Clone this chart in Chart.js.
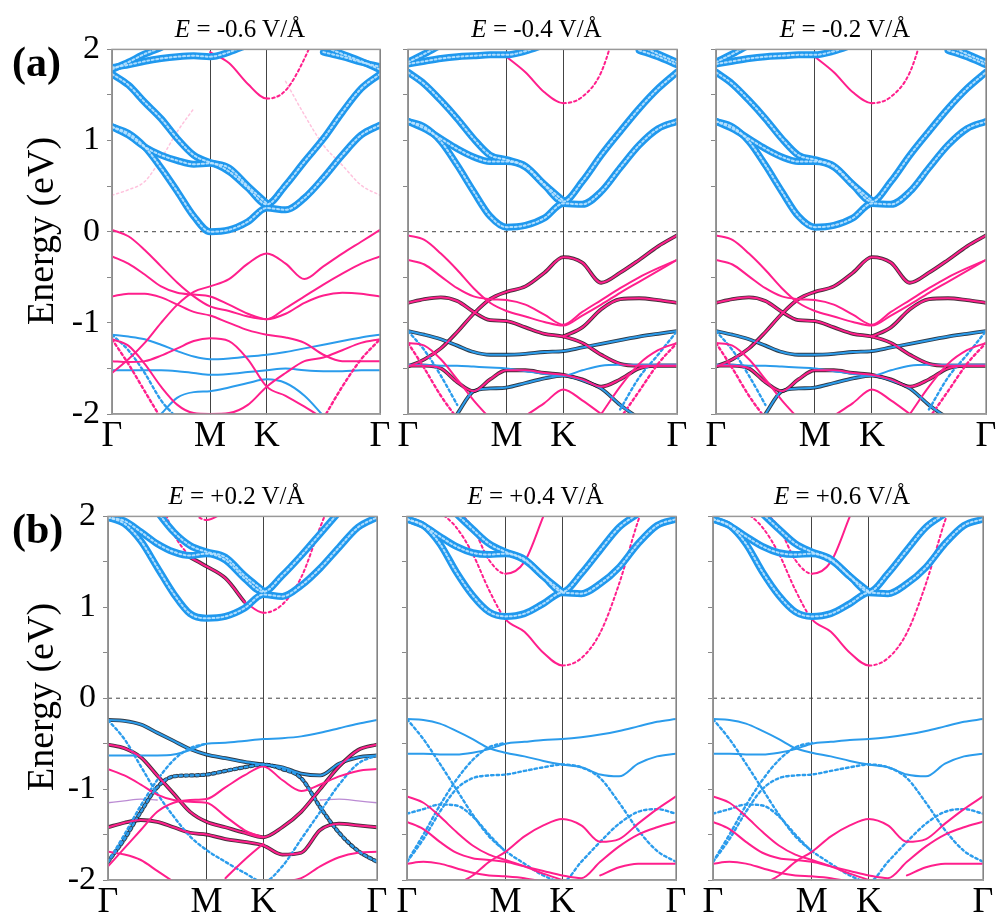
<!DOCTYPE html>
<html>
<head>
<meta charset="utf-8">
<script src="https://cdn.jsdelivr.net/npm/chart.js@4.4.1/dist/chart.umd.min.js"></script>
<style>
  body { margin: 0; width: 996px; height: 918px; background: #fff; position: relative; overflow: hidden; font-family: "Liberation Serif", serif; }
  canvas { position: absolute; }
  .ttl { position: absolute; font-family: "Liberation Serif", serif; font-size: 25px; line-height: 25px; width: 300px; text-align: center; white-space: nowrap; }
  .tag { position: absolute; font-family: "Liberation Serif", serif; font-size: 42px; line-height: 42px; font-weight: bold; }
  .ylab { position: absolute; font-family: "Liberation Serif", serif; font-size: 38px; line-height: 38px; white-space: nowrap; transform: translate(-50%, -50%) rotate(-90deg); }
</style>
</head>
<body>
<script>
const _ = null;

// k-path Γ-M-K-Γ (sample points) and labels
const kPts = [0, 0.0962, 0.1925, 0.2887, 0.3849, 0.4811, 0.5774, 0.6885, 0.7996, 0.9107, 1.0218, 1.1329, 1.2440, 1.3551, 1.4662, 1.5773];
const kTicks = [0, 0.5774, 0.9107, 1.5773];
const kLabels = ['Γ', 'M', 'K', 'Γ'];
const fieldLabels = ['-0.6', '-0.4', '-0.2', '+0.2', '+0.4', '+0.6'];

// ---- E = -0.6 V/Å ----
const a1Fat = [
  [1.15, 1.08, 0.93, 0.70, 0.44, 0.17, 0.00, 0.02, 0.11, 0.26, 0.24, 0.37, 0.59, 0.84, 1.06, 1.17],
  [1.15, 1.06, 0.93, 0.84, 0.78, 0.74, 0.75, 0.66, 0.48, 0.30, 0.51, 0.77, 1.02, 1.31, 1.57, 1.73],
  [1.73, 1.61, 1.42, 1.24, 1.02, 0.84, 0.76, 0.70, 0.50, 0.31, _, _, _, _, _, _],
  [1.80, 1.83, 1.87, 1.90, 1.92, 1.93, 1.92, 1.97, 2.05, _, _, _, 1.97, 1.92, 1.86, 1.81],
  [1.78, 1.86, 1.95, 2.02, _, _, _, _, _, _, _, _, 2.03, 1.95, 1.87, 1.78]
];
const a1PinkCond = [
  [_, _, _, _, _, _, 1.97, 1.85, 1.62, 1.46, 1.55, 1.90, 2.40, _, _, _]
];
const a1PinkFaint = [
  [0.40, 0.46, 0.55, 0.80, 1.10, 1.35, _, _, _, _, _, _, _, _, _, _],
  [_, _, _, _, _, _, _, _, _, _, 1.65, 1.28, 0.95, 0.73, 0.51, 0.40]
];
const a1Pink = [
  [0.02, -0.05, -0.20, -0.38, -0.56, -0.71, -0.82, -0.87, -0.93, -0.96, -0.84, -0.71, -0.58, -0.46, -0.35, -0.27],
  [-0.27, -0.35, -0.47, -0.60, -0.67, -0.69, -0.71, -0.80, -0.90, -0.96, -0.90, -0.78, -0.70, -0.67, -0.68, -0.71],
  [-1.55, -1.40, -1.22, -1.00, -0.80, -0.66, -0.60, -0.52, -0.35, -0.24, -0.35, -0.52, -0.38, -0.24, -0.11, 0.02],
  [-0.71, -0.68, -0.68, -0.72, -0.80, -0.88, -0.92, -1.00, -1.08, -1.13, -1.16, -1.22, -1.35, -1.42, -1.42, -1.42],
  [-1.42, -1.43, -1.42, -1.36, -1.28, -1.20, -1.17, -1.20, -1.40, -1.70, -1.80, -1.92, -2.05, _, _, _],
  [-1.18, -1.25, -1.45, -1.70, -1.90, -1.99, -2.00, -1.99, -1.90, -1.70, -1.55, -1.42, -1.38, -1.30, -1.22, -1.18]
];
const a1PinkDot = [
  [-1.18, -1.45, -1.75, -2.05, _, _, _, _, _, _, _, _, -2.05, -1.70, -1.40, -1.18]
];
const a1Blue = [
  [-1.13, -1.15, -1.18, -1.24, -1.31, -1.37, -1.40, -1.39, -1.37, -1.35, -1.32, -1.28, -1.24, -1.20, -1.16, -1.13],
  [-1.52, -1.52, -1.52, -1.52, -1.53, -1.55, -1.57, -1.56, -1.54, -1.52, -1.50, -1.52, -1.53, -1.53, -1.52, -1.52],
  [_, _, _, -2.00, -1.82, -1.76, -1.75, -1.71, -1.66, -1.62, -1.66, -1.80, -2.02, _, _, _]
];
const a1BlueDot = [
  [-1.13, -1.30, -1.55, -1.85, -2.05, _, _, _, _, _, _, _, _, _, _, _]
];

// ---- E = -0.4 / -0.2 V/Å ----
const a2Fat = [
  [1.21, 1.15, 0.99, 0.73, 0.44, 0.17, 0.05, 0.07, 0.15, 0.31, 0.30, 0.44, 0.70, 0.95, 1.13, 1.21],
  [1.21, 1.13, 1.02, 0.91, 0.82, 0.77, 0.77, 0.71, 0.51, 0.33, 0.55, 0.84, 1.10, 1.35, 1.57, 1.75],
  [1.75, 1.62, 1.44, 1.24, 1.02, 0.84, 0.79, 0.72, 0.52, 0.34, _, _, _, _, _, _],
  [1.84, 1.87, 1.90, 1.92, 1.93, 1.94, 1.94, 1.98, 2.05, _, _, _, _, 1.99, 1.92, 1.83],
  [1.86, 1.95, 2.05, _, _, _, _, _, _, _, _, _, _, 2.05, 1.95, 1.86]
];
const a2PinkCond = [
  [_, _, _, _, _, _, 1.92, 1.75, 1.53, 1.41, 1.48, 1.75, 2.40, _, _, _]
];
const a2Pink = [
  [-0.04, -0.09, -0.24, -0.42, -0.62, -0.78, -0.87, -0.93, -0.99, -1.03, -0.92, -0.80, -0.67, -0.55, -0.43, -0.31],
  [-0.31, -0.36, -0.49, -0.62, -0.71, -0.74, -0.75, -0.80, -0.91, -1.02, -0.88, -0.75, -0.62, -0.50, -0.40, -0.31],
  [-1.22, -1.25, -1.40, -1.62, -1.85, -2.05, _, _, _, _, _, -2.00, -1.70, -1.45, -1.30, -1.22],
  [_, _, _, _, _, _, _, -2.02, -1.88, -1.73, -1.85, -2.00, _, _, _, _]
];
const a2PinkDot = [
  [-1.22, -1.50, -1.80, -2.05, _, _, _, _, _, _, _, _, -2.05, -1.75, -1.45, -1.22]
];
const a2PinkDark = [
  [-1.48, -1.40, -1.28, -1.10, -0.90, -0.74, -0.66, -0.60, -0.45, -0.28, -0.34, -0.56, -0.45, -0.31, -0.16, -0.04],
  [-0.78, -0.74, -0.72, -0.76, -0.88, -0.97, -0.98, -1.05, -1.12, -1.15, -1.22, -1.35, -1.45, -1.47, -1.47, -1.47],
  [_, _, _, _, _, _, _, _, _, -1.15, -1.05, -0.85, -0.74, -0.73, -0.75, -0.78],
  [-1.47, -1.47, -1.50, -1.65, -1.75, -1.62, -1.52, -1.52, -1.55, -1.57, -1.62, -1.70, -1.62, -1.50, -1.47, -1.47]
];
const a2Blue = [
  [-1.46, -1.46, -1.47, -1.47, -1.48, -1.49, -1.50, -1.53, -1.56, -1.58, -1.52, -1.47, -1.46, -1.46, -1.46, -1.46]
];
const a2BlueDark = [
  [-1.09, -1.13, -1.18, -1.25, -1.32, -1.35, -1.35, -1.34, -1.32, -1.31, -1.27, -1.23, -1.19, -1.15, -1.12, -1.09],
  [_, _, _, -2.00, -1.75, -1.72, -1.71, -1.66, -1.61, -1.58, -1.63, -1.72, -1.90, -2.05, _, _]
];
const a2BlueDot = [
  [-1.09, -1.30, -1.58, -1.90, _, _, _, _, _, _, _, _, -1.95, -1.60, -1.35, -1.09]
];

// ---- E = +0.2 V/Å ----
const b1Fat = [
  [1.99, 1.92, 1.73, 1.44, 1.15, 0.93, 0.88, 0.90, 0.99, 1.14, 1.12, 1.24, 1.43, 1.66, 1.88, 1.99],
  [1.99, 1.95, 1.83, 1.70, 1.61, 1.57, 1.59, 1.52, 1.32, 1.17, 1.35, 1.57, 1.81, 2.05, _, _],
  [_, _, _, 2.05, 1.83, 1.68, 1.61, 1.55, 1.35, 1.18, _, _, _, _, _, _]
];
const b1PinkCond = [
  [_, _, _, 2.30, 1.81, 1.55, _, _, _, _, _, _, _, _, _, _],
  [_, _, _, _, _, _, _, _, 1.06, 0.94, 1.03, 1.33, 1.88, 2.40, _, _],
  [_, _, _, _, _, 2.05, 1.96, 2.05, _, _, _, _, _, _, _, _]
];
const b1PinkDarkCond = [
  [_, _, _, _, _, 1.55, 1.45, 1.32, 1.06, _, _, _, _, _, _, _]
];
const b1Blue = [
  [-0.63, -0.63, -0.63, -0.63, -0.62, -0.57, -0.50, -0.49, -0.47, -0.45, -0.44, -0.42, -0.38, -0.33, -0.28, -0.24]
];
const b1BlueDark = [
  [-0.24, -0.25, -0.29, -0.38, -0.47, -0.56, -0.62, -0.66, -0.70, -0.73, -0.76, -0.83, -0.85, -0.72, -0.65, -0.63]
];
const b1BlueDarkDot = [
  [-1.80, -1.55, -1.25, -0.98, -0.86, -0.85, -0.84, -0.80, -0.76, -0.73, -0.78, -0.88, -1.20, -1.48, -1.68, -1.80]
];
const b1BlueDot = [
  [-0.24, -0.45, -0.75, -1.05, -1.30, -1.52, -1.67, -1.80, -1.92, -2.02, -1.85, -1.55, -1.25, -0.95, -0.72, -0.63],
  [-1.80, -1.50, -1.18, -0.90, -0.68, -0.55, -0.50, _, _, _, _, _, _, _, _, _]
];
const b1Pink = [
  [-0.78, -0.85, -0.95, -1.06, -1.12, -1.14, -1.15, -1.30, -1.45, -1.53, _, _, _, _, _, _],
  [-1.85, -1.65, -1.45, -1.25, -1.15, -1.12, -1.11, -0.98, -0.85, -0.75, -0.90, -1.02, -0.95, -0.86, -0.80, -0.78],
  [-1.69, -1.72, -1.78, -1.90, -2.02, _, _, _, _, _, -2.02, -1.98, -1.85, -1.75, -1.70, -1.69],
  [_, _, _, _, _, _, _, -1.98, -1.78, -1.60, _, _, _, _, _, _]
];
const b1PinkDark = [
  [-0.51, -0.55, -0.65, -0.85, -1.05, -1.25, -1.36, -1.42, -1.48, -1.53, -1.42, -1.25, -1.00, -0.75, -0.57, -0.51],
  [-1.42, -1.37, -1.34, -1.36, -1.42, -1.48, -1.50, -1.55, -1.58, -1.62, -1.72, -1.70, -1.45, -1.38, -1.40, -1.42]
];
const b1Purple = [
  [-1.15, -1.13, -1.11, -1.12, _, _, _, _, _, _, _, _, -1.12, -1.11, -1.13, -1.15]
];

// ---- E = +0.4 / +0.6 V/Å ----
const b2Fat = [
  [1.97, 1.90, 1.70, 1.39, 1.13, 0.95, 0.90, 0.93, 1.04, 1.16, 1.15, 1.26, 1.44, 1.70, 1.90, 1.97],
  [1.97, 1.90, 1.78, 1.67, 1.60, 1.58, 1.59, 1.52, 1.34, 1.17, 1.37, 1.63, 1.88, 2.03, _, _],
  [_, _, _, 2.03, 1.86, 1.70, 1.61, 1.53, 1.34, 1.17, _, _, _, _, _, _]
];
const b2PinkCond = [
  [_, _, 2.05, 1.88, 1.59, 1.19, 0.87, 0.73, 0.50, 0.36, 0.44, 0.72, 1.26, 1.95, 2.50, _],
  [_, _, _, 2.07, 1.88, 1.52, 1.37, 1.50, 2.00, _, _, _, _, _, _, _]
];
const b2Blue = [
  [-0.23, -0.24, -0.28, -0.36, -0.45, -0.55, -0.60, -0.64, -0.69, -0.73, -0.76, -0.84, -0.86, -0.72, -0.64, -0.61],
  [-0.61, -0.61, -0.62, -0.62, -0.60, -0.56, -0.50, -0.48, -0.46, -0.45, -0.43, -0.40, -0.36, -0.31, -0.26, -0.23]
];
const b2BlueDot = [
  [-1.80, -1.55, -1.25, -1.00, -0.88, -0.85, -0.84, -0.80, -0.76, -0.73, -0.76, -0.88, -1.15, -1.45, -1.68, -1.80],
  [-0.23, -0.45, -0.72, -1.00, -1.28, -1.52, -1.68, -1.82, -1.95, -2.02, -1.80, -1.58, -1.38, -1.25, -1.22, -1.27],
  [-1.27, -1.22, -1.17, -1.18, -1.30, -1.50, -1.69, _, _, _, _, _, _, _, _, _],
  [-1.80, -1.50, -1.18, -0.90, -0.68, -0.54, -0.49, _, _, _, _, _, _, _, _, _]
];
const b2Pink = [
  [-1.08, -1.15, -1.30, -1.47, -1.62, -1.72, -1.78, -1.85, -1.93, -2.00, _, _, _, _, _, _],
  [-1.36, -1.44, -1.58, -1.70, -1.76, -1.78, -1.80, -1.85, -1.90, -1.95, -1.98, -1.80, -1.63, -1.50, -1.42, -1.36],
  [_, _, _, -2.05, -1.95, -1.80, -1.69, -1.52, -1.40, -1.33, -1.40, -1.58, -1.55, -1.38, -1.22, -1.08],
  [-1.82, -1.80, -1.82, -1.87, -1.92, -1.95, -1.96, -1.98, -2.02, _, _, -1.95, -1.86, -1.82, -1.82, -1.82]
];

// line styles per band group
const PINK = '#ff1f8c', BLUE = '#2b9cec';
const styles = {
  pinkFaint:     { color: 'rgba(255,120,180,0.45)', width: 1.5, dash: [2, 3], order: 7 },
  purple:        { color: 'rgba(170,110,200,0.8)', width: 1.3, order: 6 },
  pink:          { color: PINK, width: 2, order: 4 },
  pinkDot:       { color: PINK, width: 2.4, dash: [2.5, 3], order: 4 },
  blue:          { color: BLUE, width: 2, order: 4 },
  blueDot:       { color: BLUE, width: 2.4, dash: [2.5, 3], order: 4 },
  pinkDark:      { color: PINK, width: 2, under: 'rgba(40,10,25,0.85)', order: 3 },
  blueDark:      { color: BLUE, width: 2, under: 'rgba(10,25,40,0.85)', order: 3 },
  blueDarkDot:   { color: BLUE, width: 2.4, dash: [2.5, 3], under: 'rgba(10,25,40,0.85)', order: 3 },
  pinkCond:      { color: PINK, width: 2, cond: true, order: 2 },
  pinkDarkCond:  { color: PINK, width: 2, under: 'rgba(40,10,25,0.85)', order: 2 },
  fat:           { color: '#1f98ee', width: 7, inner: 'rgba(190,228,255,0.9)', order: 1 }
};

const layouts = [
  { rect: [112, 47, 380, 414], left: true,  groups: { pinkFaint: a1PinkFaint, pink: a1Pink, pinkDot: a1PinkDot, blue: a1Blue, blueDot: a1BlueDot, pinkCond: a1PinkCond, fat: a1Fat } },
  { rect: [408, 47, 677, 414], left: false, groups: { pink: a2Pink, pinkDot: a2PinkDot, pinkDark: a2PinkDark, blue: a2Blue, blueDark: a2BlueDark, blueDot: a2BlueDot, pinkCond: a2PinkCond, fat: a2Fat } },
  { rect: [716, 47, 986, 414], left: false, groups: { pink: a2Pink, pinkDot: a2PinkDot, pinkDark: a2PinkDark, blue: a2Blue, blueDark: a2BlueDark, blueDot: a2BlueDot, pinkCond: a2PinkCond, fat: a2Fat } },
  { rect: [108, 514, 377, 880], left: true,  groups: { purple: b1Purple, pink: b1Pink, pinkDark: b1PinkDark, blue: b1Blue, blueDot: b1BlueDot, blueDark: b1BlueDark, blueDarkDot: b1BlueDarkDot, pinkCond: b1PinkCond, pinkDarkCond: b1PinkDarkCond, fat: b1Fat } },
  { rect: [407, 514, 676, 880], left: false, groups: { pink: b2Pink, blue: b2Blue, blueDot: b2BlueDot, pinkCond: b2PinkCond, fat: b2Fat } },
  { rect: [713, 514, 983, 880], left: false, groups: { pink: b2Pink, blue: b2Blue, blueDot: b2BlueDot, pinkCond: b2PinkCond, fat: b2Fat } }
];

function bandSets(name, bands) {
  const st = styles[name];
  const out = [];
  const base = { pointRadius: 0, fill: false, cubicInterpolationMode: 'monotone', spanGaps: false, clip: 0, borderCapStyle: 'round', borderJoinStyle: 'round' };
  bands.forEach(b => {
    const data = b.map((v, i) => ({ x: kPts[i], y: v }));
    if (st.under) out.push({ ...base, data, borderColor: st.under, borderWidth: st.width + 1.8, borderDash: st.dash || [], order: 5 });
    const ds = { ...base, data, borderColor: st.color, borderWidth: st.width, borderDash: st.dash || [], order: st.order };
    if (st.cond) {
      ds.segment = { borderDash: c => (c.p0.parsed.x >= kTicks[1] - 1e-6 && c.p1.parsed.x <= kTicks[2] + 1e-6) ? [] : [2.5, 3] };
    }
    out.push(ds);
    if (st.inner) out.push({ ...base, data, borderColor: st.inner, borderWidth: 2, borderDash: [2, 2.5], order: 0 });
  });
  return out;
}

const framePlugin = {
  id: 'frame',
  beforeDatasetsDraw(chart) {
    const { ctx, chartArea: a, scales } = chart;
    const y0 = scales.y.getPixelForValue(0);
    ctx.save();
    ctx.strokeStyle = '#444';
    ctx.lineWidth = 1;
    ctx.setLineDash([4, 4]);
    ctx.beginPath();
    ctx.moveTo(a.left, y0);
    ctx.lineTo(a.right, y0);
    ctx.stroke();
    ctx.restore();
  },
  afterDatasetsDraw(chart) {
    const { ctx, chartArea: a } = chart;
    ctx.save();
    ctx.strokeStyle = '#999';
    ctx.lineWidth = 1.5;
    ctx.strokeRect(a.left, a.top, a.right - a.left, a.bottom - a.top);
    ctx.restore();
  }
};

const AXW = 70, PADT = 25, PADR = 14, AXH = 50;

layouts.forEach((p, n) => {
  const [L, T, R, B] = p.rect;
  const cv = document.createElement('canvas');
  const w = (R - L) + AXW + PADR, h = (B - T) + PADT + AXH;
  cv.width = w; cv.height = h;
  cv.style.left = (L - AXW) + 'px';
  cv.style.top = (T - PADT) + 'px';
  cv.style.width = w + 'px'; cv.style.height = h + 'px';
  document.body.appendChild(cv);

  let datasets = [];
  Object.keys(p.groups).forEach(g => { datasets = datasets.concat(bandSets(g, p.groups[g])); });

  new Chart(cv.getContext('2d'), {
    type: 'line',
    data: { datasets },
    options: {
      responsive: false,
      animation: false,
      events: [],
      layout: { padding: { top: PADT, right: PADR, left: 0, bottom: 0 } },
      plugins: { legend: { display: false }, tooltip: { enabled: false } },
      scales: {
        x: {
          type: 'linear',
          min: kTicks[0],
          max: kTicks[3],
          afterBuildTicks: s => { s.ticks = kTicks.map(v => ({ value: v })); },
          afterFit: s => { s.height = AXH; },
          ticks: {
            autoSkip: false,
            maxRotation: 0,
            padding: 1,
            color: '#000',
            font: { family: 'Liberation Serif', size: 36 },
            callback: (v, i) => kLabels[i]
          },
          grid: { color: '#444', lineWidth: 1, tickLength: 0 },
          border: { color: '#999', width: 1.5 }
        },
        y: {
          min: -2,
          max: 2,
          afterFit: s => { s.width = AXW; },
          ticks: {
            stepSize: 0.5,
            padding: 7,
            color: '#000',
            font: { family: 'Liberation Serif', size: 34 },
            callback: v => (p.left && Number.isInteger(v)) ? String(v) : ''
          },
          grid: { drawOnChartArea: false, tickLength: 5, color: '#888' },
          border: { color: '#999', width: 1.5 }
        }
      }
    },
    plugins: [framePlugin]
  });

  const t = document.createElement('div');
  t.className = 'ttl';
  t.innerHTML = '<i>E</i> = ' + fieldLabels[n] + ' V/Å';
  t.style.left = ((L + R) / 2 - 156) + 'px';
  t.style.top = (T - 31) + 'px';
  document.body.appendChild(t);

  if (p.left) {
    const tag = document.createElement('div');
    tag.className = 'tag';
    tag.textContent = n === 0 ? '(a)' : '(b)';
    tag.style.left = '12px';
    tag.style.top = (T - 6) + 'px';
    document.body.appendChild(tag);

    const yl = document.createElement('div');
    yl.className = 'ylab';
    yl.textContent = 'Energy (eV)';
    yl.style.left = '40px';
    yl.style.top = ((T + B) / 2) + 'px';
    document.body.appendChild(yl);
  }
});
</script>
</body>
</html>
